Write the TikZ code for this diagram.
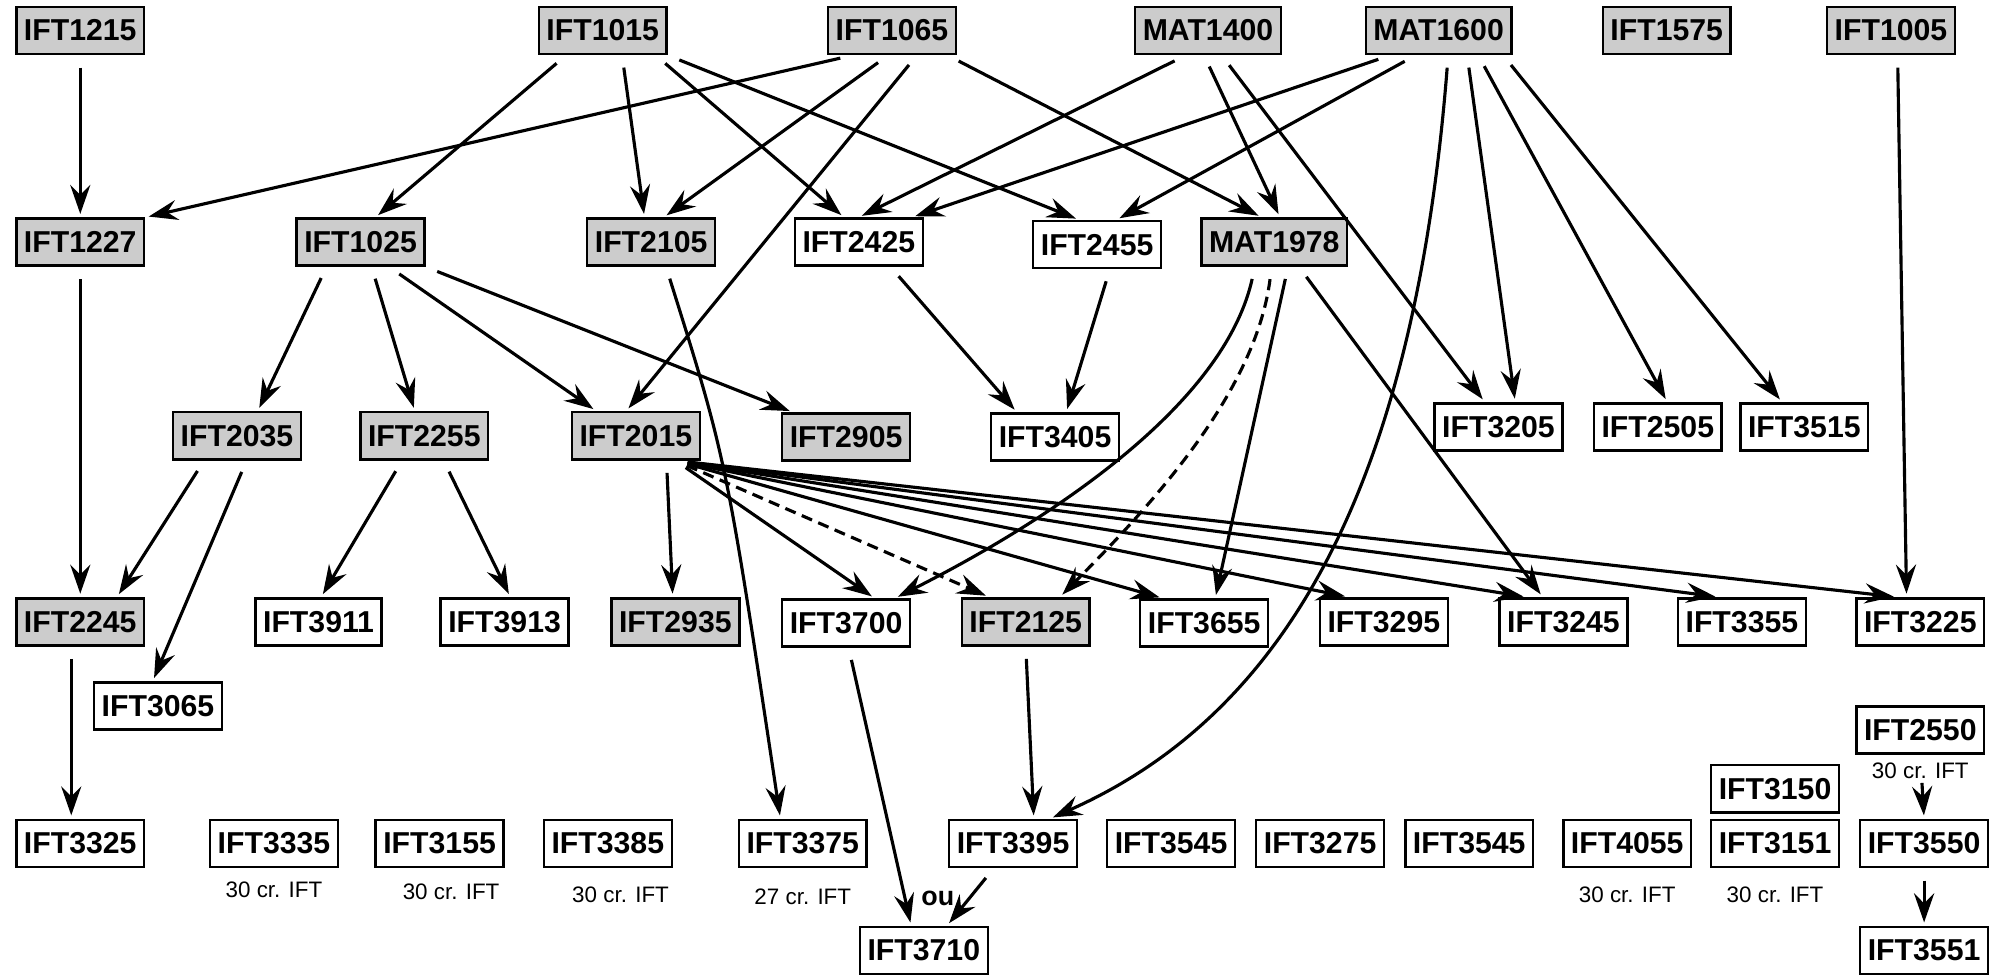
\documentclass[tikz,border=0pt]{standalone}
\usepackage{fontspec}
\setmainfont{Liberation Sans}
\usepackage{tikz}
\usetikzlibrary{arrows.meta,positioning}

\begin{document}
\begin{tikzpicture}[x=0.02cm, y=-0.02cm, >={Stealth[length=13pt,width=9pt,inset=4.5pt]},
	cours/.style={draw, line width=1.1pt, fill=white, minimum height=0.74cm, inner xsep=0.12cm, inner ysep=0pt, font=\fontsize{13.5}{15}\selectfont\bfseries},
	obl/.style={cours, fill=gray!40},
	cr/.style={font=\fontsize{10}{12}\selectfont, inner sep=0pt},
	link/.style={->, line width=1.4pt, shorten <=5.5pt, shorten >=1.5pt},
	pointille/.style={dash pattern=on 5pt off 3pt}]
	\useasboundingbox (0,0) rectangle (1568,768);

	% premiere rangee
	\node[obl] (ift1215) at (63,24) {IFT1215};
	\node[obl] (ift1015) at (473,24) {IFT1015};
	\node[obl] (ift1065) at (700,24) {IFT1065};
	\node[obl] (mat1400) at (948,24) {MAT1400};
	\node[obl] (mat1600) at (1129,24) {MAT1600};
	\node[obl] (ift1575) at (1308,24) {IFT1575};
	\node[obl] (ift1005) at (1484,24) {IFT1005};

	\node[obl] (ift1227) at (63,190) {IFT1227};
	\node[obl] (ift1025) at (283,190) {IFT1025};
	\node[obl] (ift2105) at (511,190) {IFT2105};
	\node[cours] (ift2425) at (674,190) {IFT2425};
	\node[cours] (ift2455) at (861,192) {IFT2455};
	\node[obl] (mat1978) at (1000,190) {MAT1978};

	\node[obl] (ift2035) at (186,342) {IFT2035};
	\node[obl] (ift2255) at (333,342) {IFT2255};
	\node[obl] (ift2015) at (499,342) {IFT2015};
	\node[obl] (ift2905) at (664,343) {IFT2905};
	\node[cours] (ift3405) at (828,343) {IFT3405};
	\node[cours] (ift3205) at (1176,335) {IFT3205};
	\node[cours] (ift2505) at (1301,335) {IFT2505};
	\node[cours] (ift3515) at (1416,335) {IFT3515};

	\node[obl] (ift2245) at (63,488) {IFT2245};
	\node[cours] (ift3911) at (250,488) {IFT3911};
	\node[cours] (ift3913) at (396,488) {IFT3913};
	\node[obl] (ift2935) at (530,488) {IFT2935};
	\node[cours] (ift3700) at (664,489) {IFT3700};
	\node[obl] (ift2125) at (805,488) {IFT2125};
	\node[cours] (ift3655) at (945,489) {IFT3655};
	\node[cours] (ift3295) at (1086,488) {IFT3295};
	\node[cours] (ift3245) at (1227,488) {IFT3245};
	\node[cours] (ift3355) at (1367,488) {IFT3355};
	\node[cours] (ift3225) at (1507,488) {IFT3225};
	\node[cours] (ift3065) at (124,554) {IFT3065};

	% derniere rangee
	\node[cours] (ift3325) at (63,662) {IFT3325};
	\node[cours] (ift3335) at (215,662) {IFT3335};
	\node[cours] (ift3155) at (345,662) {IFT3155};
	\node[cours] (ift3385) at (477,662) {IFT3385};
	\node[cours] (ift3375) at (630,662) {IFT3375};
	\node[cours] (ift3395) at (795,662) {IFT3395};
	\node[cours] (ift3545) at (919,662) {IFT3545};
	\node[cours] (ift3275) at (1036,662) {IFT3275};
	\node[cours] (ift3545b) at (1153,662) {IFT3545};
	\node[cours] (ift4055) at (1277,662) {IFT4055};
	\node[cours] (ift3150) at (1393,619) {IFT3150};
	\node[cours] (ift3151) at (1393,662) {IFT3151};
	\node[cours] (ift2550) at (1507,573) {IFT2550};
	\node[cours] (ift3550) at (1510,662) {IFT3550};
	\node[cours] (ift3551) at (1510,746) {IFT3551};
	\node[cours] (ift3710) at (725,746) {IFT3710};

	\node[cr] (cr3335) [below=0.2cm of ift3335] {30 cr. IFT};
	\node[cr] (cr3155) [below=0.24cm of ift3155, xshift=0.18cm] {30 cr. IFT};
	\node[cr] (cr3385) [below=0.28cm of ift3385, xshift=0.2cm] {30 cr. IFT};
	\node[cr] (cr3375) [below=0.32cm of ift3375] {27 cr. IFT};
	\node[cr] (cr4055) [below=0.28cm of ift4055] {30 cr. IFT};
	\node[cr] (cr3151) [below=0.28cm of ift3151] {30 cr. IFT};
	\node[cr] (cr2550) [below=0.12cm of ift2550] {30 cr. IFT};
	\node[font=\fontsize{12}{14}\selectfont\bfseries, inner sep=0pt] (ou) at (736,705) {ou};

	\path[link]
	(ift1215) edge (ift1227)
	(ift1227) edge (ift2245)
	(ift2245.-110) edge (ift3325.110)

	(ift1015.-146) edge (ift1025.59)
	(ift1015.-52) edge (ift2105.105)
	(ift1015.-25) edge (ift2425.121)
	(ift1015.south east) edge (ift2455.126)

	(ift1065.-148) edge (ift1227.north east)
	(ift1065.-99) edge (ift2105.63)
	(ift1065.-45) edge (ift2015.111)
	(ift1065.-24) edge (mat1978.117)

	(mat1400.-132) edge (ift2425.north)
	(mat1400.-99) edge (mat1978.77)
	(mat1400.-61) edge (ift3205.119)

	(mat1600.-153) edge (ift2425.25)
	(mat1600.-133) edge (ift2455.52)
	(mat1600.-41) edge (ift3205.56)
	(mat1600.-32) edge (ift2505.69)
	(mat1600.-21) edge (ift3515.132)
	(ift1005.-75) edge (ift3225.119)

	(ift1025.-144) edge (ift2035.50)
	(ift1025.-66) edge (ift2255.111)
	(ift1025.-41) edge (ift2015.148)
	(ift1025.south east) edge (ift2905.155)

	(ift2425.-38) edge (ift3405.147)
	(ift2455.-63) edge (ift3405.66)
	(mat1978.-61) edge (ift3655.66)
	(mat1978.-45) edge (ift3245.130)

	(ift2035.-143) edge (ift2245.34)
	(ift2035.-69) edge (ift3065.102)
	(ift2255.-132) edge (ift3911.84)
	(ift2255.-52) edge (ift3913.77)

	(ift2015.-39) edge (ift2935.96)
	(ift2015.-32) edge (ift3700.41)
	(ift2015.-32) edge[pointille] (ift2125.146)
	(ift2015.-32) edge (ift3655.149)
	(ift2015.-32) edge (ift3295.145)
	(ift2015.-32) edge (ift3245.146)
	(ift2015.-32) edge (ift3355.133)
	(ift2015.-32) edge (ift3225.133)

	(ift3700.-84) edge (ift3710.117)
	(ift3395.-128) edge (ift3710.47)
	(ift2125.south) edge (ift3395.50)
	(ift2550.south) edge[shorten <=0.44cm] (ift3550.north)
	(ift3550) edge (ift3551)
	;

	\draw[link] (mat1600.-69) .. controls (1110,380) and (1010,560) .. (ift3395.34);
	\draw[link] (mat1978.-128) .. controls (960,320) and (820,410) .. (ift3700.27);
	\draw[link, pointille] (mat1978.-96) .. controls (985,310) and (900,400) .. (ift2125.36);
	\draw[link] (ift2105.-59) .. controls (570,360) .. (ift3375.132);
\end{tikzpicture}
\end{document}
